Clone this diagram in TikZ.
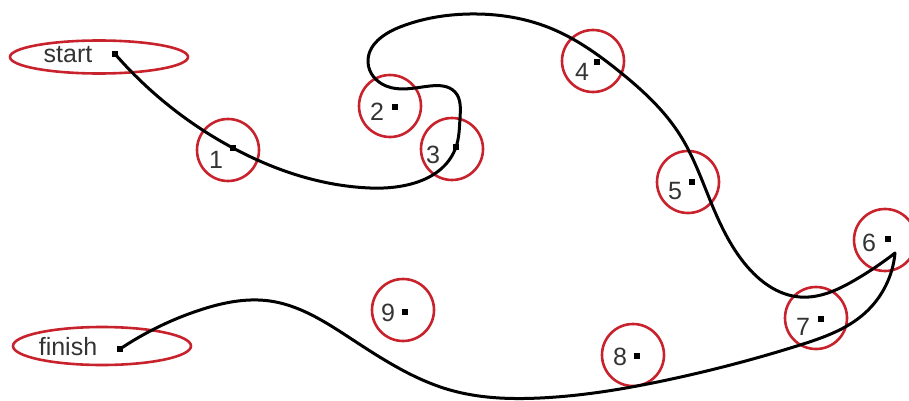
\documentclass[tikz,border=0pt]{standalone}
\usepackage{fontspec}
\setmainfont{Liberation Sans}
\usetikzlibrary{shapes.geometric,hobby}
\definecolor{ringred}{RGB}{200,35,45}
\tikzset{
  ring/.style={draw=ringred, line width=2.6pt, circle, minimum size=62pt, inner sep=0pt},
  oval/.style={draw=ringred, line width=2.6pt, ellipse, inner sep=0pt},
  dotsq/.style={fill=black, minimum size=5.5pt, inner sep=0pt, rectangle},
  lbl/.style={font=\fontsize{25}{25}\selectfont, text=black!80, inner sep=0pt},
  pathline/.style={line width=3pt, black, line cap=round, line join=round}
}
\begin{document}
\begin{tikzpicture}[x=1pt,y=-1pt]
\useasboundingbox (0,0) rectangle (909,401);
% ovals
\node[oval, minimum width=178pt, minimum height=33pt] (os) at (99,57) {};
\node[oval, minimum width=178pt, minimum height=38pt] (of) at (102,346) {};
\node[lbl] (ts) at (68,55) {start};
\node[lbl] (tf) at (68,347) {finish};
% rings
\node[ring] (c1) at (228,150) {};
\node[ring] (c2) at (390,106) {};
\node[ring] (c3) at (452,149) {};
\node[ring] (c4) at (593,61) {};
\node[ring] (c5) at (688,182) {};
\node[ring] (c6) at (885,240) {};
\node[ring] (c7) at (816,318) {};
\node[ring] (c8) at (633,355) {};
\node[ring] (c9) at (403,310) {};
% labels
\node[lbl] (l1) at (216,160) {1};
\node[lbl] (l2) at (377,112) {2};
\node[lbl] (l3) at (433,155) {3};
\node[lbl] (l4) at (582,72) {4};
\node[lbl] (l5) at (675,191) {5};
\node[lbl] (l6) at (869,243) {6};
\node[lbl] (l7) at (803,327) {7};
\node[lbl] (l8) at (620,357) {8};
\node[lbl] (l9) at (388,313) {9};
% dots
\node[dotsq] (ds) at (115,54) {};
\node[dotsq] (df) at (120,349) {};
\node[dotsq] (d1) at (233,148) {};
\node[dotsq] (d2) at (395,107) {};
\node[dotsq] (d3) at (456,147) {};
\node[dotsq] (d4) at (597,62) {};
\node[dotsq] (d5) at (692,182) {};
\node[dotsq] (d6) at (888,239) {};
\node[dotsq] (d7) at (821,319) {};
\node[dotsq] (d8) at (637,356) {};
\node[dotsq] (d9) at (405,312) {};
\coordinate (tip) at (895,253);
% path
\draw[pathline, use Hobby shortcut] (ds.center) .. (d1.center) .. (370,188) .. (d3.center)
  .. (460,118) .. (455,92) .. (430,86) .. (386,86) .. (368,62) .. (400,27) .. (470,14) .. (550,28)
  .. (620,72) .. (680,135) .. (710,200) .. (745,264) .. (800,297) .. (855,280) .. (tip);
\draw[pathline, use Hobby shortcut] (tip) .. (865,313) .. (800,345) .. (667,380)
  .. (540,398) .. (450,390) .. (350,338) .. (270,301) .. (200,310) .. (df.center);
\end{tikzpicture}
\end{document}
